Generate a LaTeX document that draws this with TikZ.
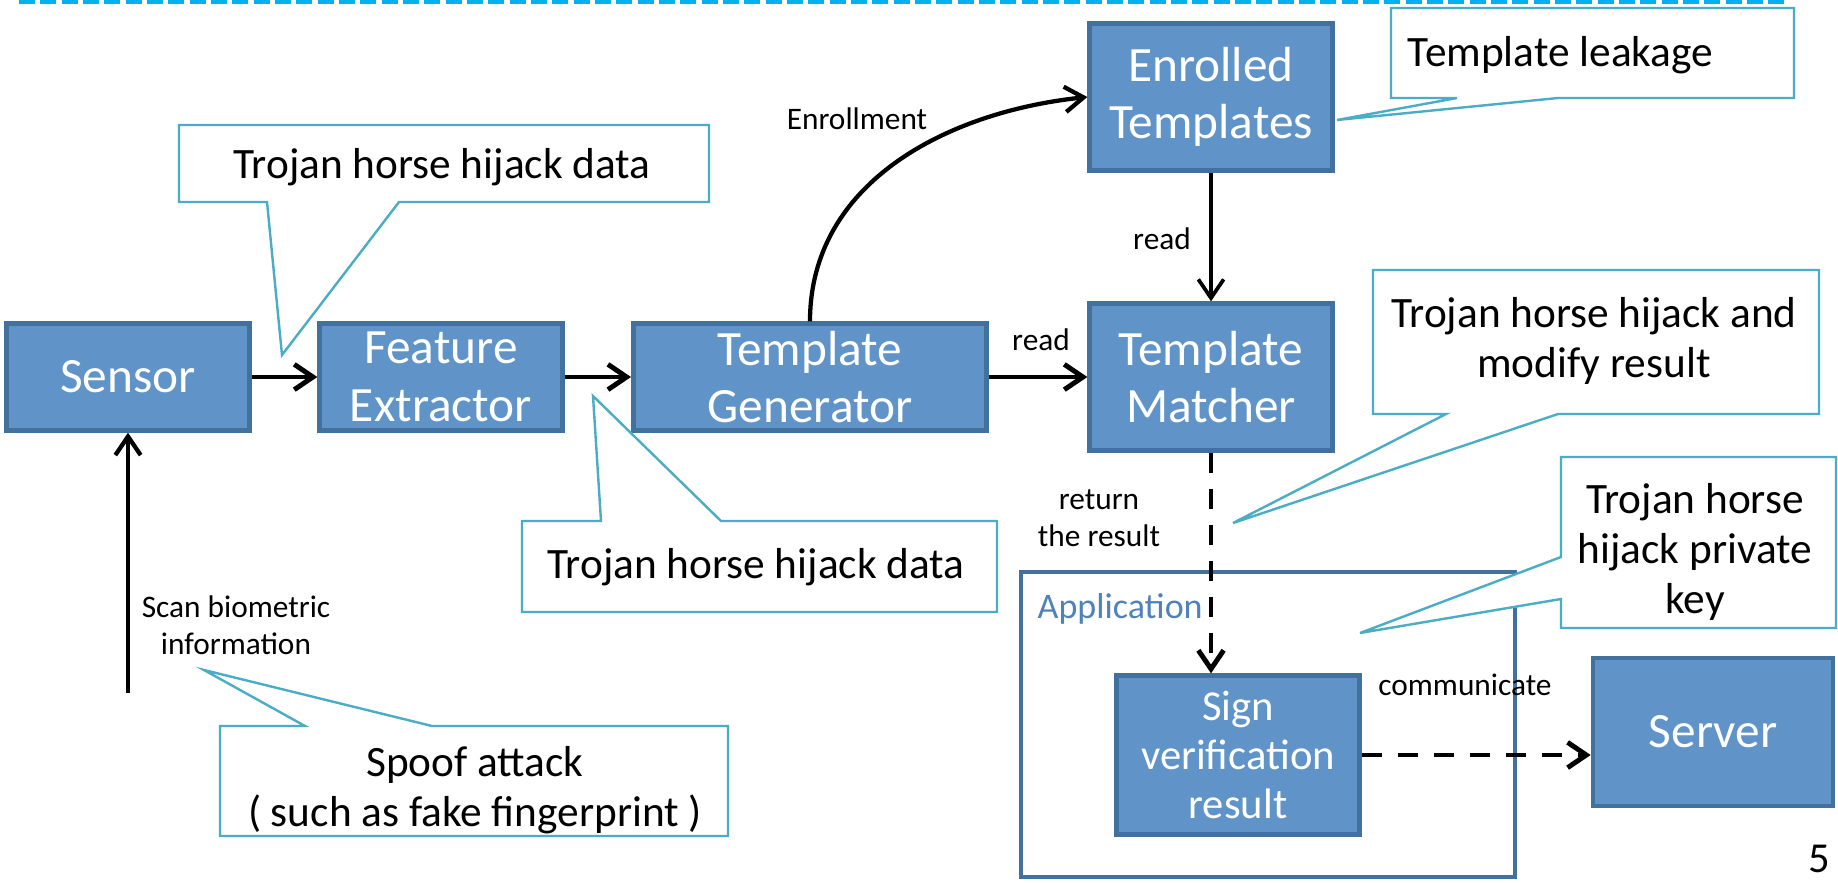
\documentclass[tikz,border=0pt]{standalone}
\usepackage{fontspec}
\setmainfont{Carlito}
\usetikzlibrary{arrows.meta}
\definecolor{boxfill}{RGB}{96,148,201}
\definecolor{boxline}{RGB}{65,113,156}
\definecolor{calline}{RGB}{75,172,198}
\definecolor{topline}{RGB}{0,176,240}
\definecolor{apptext}{RGB}{79,129,189}
\tikzset{
  blk/.style={draw=boxline, fill=boxfill, line width=3.5pt, text=white, align=center,
    font=\fontsize{37}{43}\selectfont, minimum width=182pt, minimum height=80pt, inner sep=0pt},
  callout/.style={draw=calline, line width=1.8pt, fill=white, line join=miter},
  calltext/.style={align=center, font=\fontsize{32.5}{37.5}\selectfont},
  lbl/.style={align=center, font=\fontsize{23.5}{28}\selectfont},
  arr/.style={line width=3.7pt, -{Straight Barb[length=14pt,width=19pt]}},
  dasharr/.style={arr, dash pattern=on 15pt off 12pt},
}
\begin{document}
\begin{tikzpicture}[x=0.75pt,y=-0.75pt]
\useasboundingbox (0,0) rectangle (1838,882);
\draw[topline, line width=3pt, dash pattern=on 12pt off 4pt] (19,2) -- (1784,2);
\draw[boxline, line width=3pt] (1021,572) rectangle (1515,877);
\node[text=apptext, anchor=west, font=\fontsize{27}{32}\selectfont] (app) at (1033,609) {Application};
\node[blk] (sensor) at (128,377) {Sensor};
\node[blk] (feat) at (441,377) {Feature\\Extractor};
\node[blk, minimum width=265pt] (gen) at (810,377) {Template\\Generator};
\node[blk, minimum height=110pt] (enr) at (1211,97) {Enrolled\\Templates};
\node[blk, minimum height=110pt] (mat) at (1211,377) {Template\\Matcher};
\node[blk, minimum height=119pt, font=\fontsize{32}{37}\selectfont] (sign) at (1238,755) {Sign\\verification\\result};
\node[blk, minimum width=180pt, minimum height=111pt] (server) at (1713,732) {Server};
\coordinate (scan) at (128,693);
\draw[arr] (sensor) -- (feat);
\draw[arr] (feat) -- (gen);
\draw[arr] (gen) -- (mat);
\draw[arr, line width=3.2pt] (gen.north) to[out=90, in=186] (enr.west);
\draw[arr, line width=2.8pt] (enr) -- (mat);
\draw[arr, line width=3.2pt] (scan) -- (sensor.south);
\draw[dasharr] (mat.south) -- (mat.south |- sign.north);
\draw[dasharr] (sign.east) -- (sign.east -| server.west);
\node[lbl] (lread1) at (1041,340) {read};
\node[lbl] (lenr) at (857,119) {Enrollment};
\node[lbl] (lread2) at (1162,239) {read};
\node[lbl] (lret) at (1099,518) {return\\the result};
\node[lbl] (lcom) at (1465,685) {communicate};
\node[lbl] (lscan) at (236,625) {Scan biometric\\information};
\draw[callout] (179,125) -- (709,125) -- (709,202) -- (399,202) -- (282,355) -- (267,202) -- (179,202) -- cycle;
\node[calltext] (c1) at (442,167) {Trojan horse hijack data};
\draw[callout] (522,521) -- (601,521) -- (593,396) -- (721,521) -- (997,521) -- (997,612) -- (522,612) -- cycle;
\node[calltext] (c2) at (756,567) {Trojan horse hijack data};
\draw[callout] (220,726) -- (305,726) -- (204,670) -- (432,726) -- (728,726) -- (728,836) -- (220,836) -- cycle;
\node[calltext] (c3) at (475,790) {Spoof attack\\( such as fake fingerprint )};
\draw[callout] (1391,8) -- (1794,8) -- (1794,98) -- (1558,98) -- (1337,120) -- (1457,98) -- (1391,98) -- cycle;
\node[calltext, anchor=west] (c4) at (1403,55) {Template leakage};
\draw[callout] (1373,270) -- (1819,270) -- (1819,414) -- (1558,414) -- (1233,523) -- (1446,414) -- (1373,414) -- cycle;
\node[calltext] (c5) at (1594,341) {Trojan horse hijack and\\modify result};
\draw[callout] (1561,457) -- (1836,457) -- (1836,628) -- (1561,628) -- (1561,599) -- (1360,633) -- (1561,557) -- cycle;
\node[calltext] (c6) at (1695,552) {Trojan horse\\hijack private\\key};
\node[anchor=base east, inner sep=0pt, font=\fontsize{32}{38}\selectfont] (pnum) at (1830,872) {5};
\end{tikzpicture}
\end{document}
